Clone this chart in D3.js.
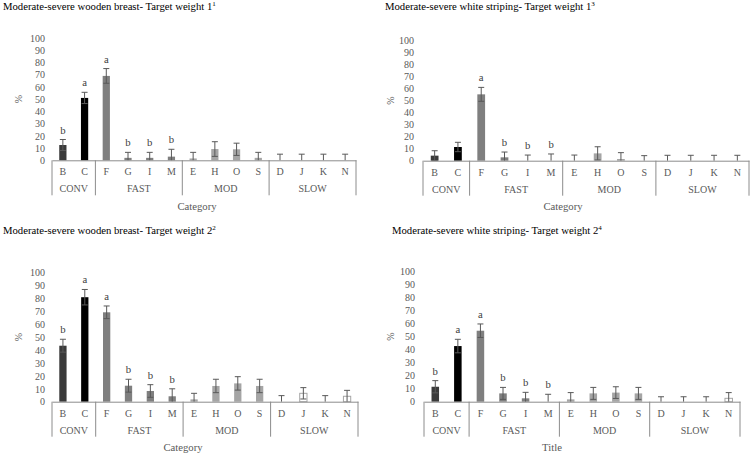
<!DOCTYPE html>
<html>
<head>
<meta charset="utf-8">
<script src="https://cdn.jsdelivr.net/npm/d3@7"></script>
<style>
  html, body { margin: 0; padding: 0; background: #fff; }
  svg { display: block; }
  text { font-family: "Liberation Serif", "Times New Roman", serif; }
</style>
</head>
<body>
<svg id="chart" width="750" height="454"></svg>
<script>
// ---------------- DATA ----------------
const categories = ["B", "C", "F", "G", "I", "M", "E", "H", "O", "S", "D", "J", "K", "N"];
const categoryGroups = ["CONV", "CONV", "FAST", "FAST", "FAST", "FAST", "MOD", "MOD", "MOD", "MOD", "SLOW", "SLOW", "SLOW", "SLOW"];
const groupNames = ["CONV", "FAST", "MOD", "SLOW"];
const yTicks = [0, 10, 20, 30, 40, 50, 60, 70, 80, 90, 100];

// Moderate-severe wooden breast - Target weight 1
const woodenTw1Values = [12.5, 51, 69, 2, 2, 3, 1.5, 9.2, 9, 2, 0, 0, 0, 0];
const woodenTw1Errors = [4.5, 4.6, 6, 4.5, 4.5, 6, 5, 6, 5, 4.5, 5, 5, 5, 5];
const woodenTw1Letters = ["b", "a", "a", "b", "b", "b", "", "", "", "", "", "", "", ""];

// Moderate-severe white striping - Target weight 1
const whiteTw1Values = [4.2, 11.4, 55.2, 2.8, 0, 0, 0, 6.1, 1.4, 0, 0, 0, 0, 0];
const whiteTw1Errors = [4.1, 3.9, 5.8, 4.4, 4.7, 5.6, 4.7, 5.5, 5.3, 4.2, 4.5, 4.5, 4.5, 4.5];
const whiteTw1Letters = ["", "", "a", "b", "b", "b", "", "", "", "", "", "", "", ""];

// Moderate-severe wooden breast - Target weight 2
const woodenTw2Values = [43.4, 81, 69.3, 12.4, 8.3, 4.2, 1.8, 12.2, 14.2, 12.2, 0, 6.5, 0, 4.2];
const woodenTw2Errors = [5, 6, 4.9, 5, 4.9, 5.8, 4.7, 5.2, 5.2, 5.2, 4.7, 4.4, 4.7, 4.6];
const woodenTw2Letters = ["b", "a", "a", "b", "b", "b", "", "", "", "", "", "", "", ""];

// Moderate-severe white striping - Target weight 2
const whiteTw2Values = [11.5, 42.8, 54.6, 6.4, 2.6, 0, 1.8, 6.4, 7, 6.4, 0, 0, 0, 2.6];
const whiteTw2Errors = [4.7, 5.2, 5.2, 4.6, 4.6, 5.7, 5.2, 4.6, 4.5, 4.6, 3.8, 3.8, 3.8, 4.4];
const whiteTw2Letters = ["b", "a", "a", "b", "b", "b", "", "", "", "", "", "", "", ""];

// ---------------- STYLE / LAYOUT ----------------
const groupFill = { CONV: null, FAST: "#7f7f7f", MOD: "#a5a5a5", SLOW: "#ffffff" };
const catFill = { B: "#3a3a3a", C: "#000000" };
const groupStroke = { SLOW: "#a6a6a6" };
const axisColor = "#8c8c8c";
const labelColor = "#595959";
const errColor = "#595959";

const panels = [
  { title: "Moderate-severe wooden breast- Target weight 1", sup: "1", values: woodenTw1Values, errors: woodenTw1Errors, letters: woodenTw1Letters,
    titleX: 3, titleY: 9.5, x0: 52, x1: 356, y0: 160.3, y100: 38, tickRight: 45, yLabelX: 18, axisTitle: "Category", axisTitleX: 197 },
  { title: "Moderate-severe white striping- Target weight 1", sup: "3", values: whiteTw1Values, errors: whiteTw1Errors, letters: whiteTw1Letters,
    titleX: 385, titleY: 10, x0: 423, x1: 749, y0: 160.7, y100: 40.5, tickRight: 414, yLabelX: 390, axisTitle: "Category", axisTitleX: 563 },
  { title: "Moderate-severe wooden breast- Target weight 2", sup: "2", values: woodenTw2Values, errors: woodenTw2Errors, letters: woodenTw2Letters,
    titleX: 3, titleY: 234, x0: 52, x1: 358, y0: 401.7, y100: 272.7, tickRight: 45, yLabelX: 18, axisTitle: "Category", axisTitleX: 183 },
  { title: "Moderate-severe white striping- Target weight 2", sup: "4", values: whiteTw2Values, errors: whiteTw2Errors, letters: whiteTw2Letters,
    titleX: 392, titleY: 233.5, x0: 424, x1: 740, y0: 401.7, y100: 271.7, tickRight: 415, yLabelX: 390, axisTitle: "Title", axisTitleX: 552 }
];

const svg = d3.select("#chart");

panels.forEach(p => {
  const g = svg.append("g");

  // Title
  const t = g.append("text")
    .attr("x", p.titleX).attr("y", p.titleY)
    .attr("font-size", "10.7px").attr("fill", "#000");
  t.append("tspan").text(p.title);
  t.append("tspan").attr("font-size", "7px").attr("dy", "-4").text(p.sup);

  const x = d3.scaleBand().domain(categories).range([p.x0, p.x1])
    .paddingInner(2 / 3).paddingOuter(1 / 3);
  const y = d3.scaleLinear().domain([0, 100]).range([p.y0, p.y100]);
  const step = x.step();
  const bw = x.bandwidth();

  // Y tick labels
  const yAxis = d3.axisLeft(y).tickValues(yTicks).tickSize(0).tickPadding(0);
  const ya = g.append("g").attr("transform", `translate(${p.tickRight},0)`).call(yAxis);
  ya.select(".domain").remove();
  ya.selectAll("text").attr("font-size", "10px").attr("fill", labelColor)
    .style("font-family", '"Liberation Serif", "Times New Roman", serif');

  // Y label
  g.append("text")
    .attr("transform", `translate(${p.yLabelX},${(p.y0 + p.y100) / 2}) rotate(-90)`)
    .attr("text-anchor", "middle").attr("dy", "0.35em")
    .attr("font-size", "10px").attr("fill", labelColor).text("%");

  const data = categories.map((c, i) => ({
    cat: c, group: categoryGroups[i], v: p.values[i], e: p.errors[i], letter: p.letters[i]
  }));

  // Bars
  g.selectAll("rect.bar").data(data.filter(d => d.v > 0)).join("rect")
    .attr("class", "bar")
    .attr("x", d => x(d.cat))
    .attr("width", bw)
    .attr("y", d => y(d.v))
    .attr("height", d => y(0) - y(d.v))
    .attr("fill", d => catFill[d.cat] || groupFill[d.group])
    .attr("stroke", d => groupStroke[d.group] || "none")
    .attr("stroke-width", 1);

  // Error bars
  const capW = 6;
  const eb = g.selectAll("g.err").data(data).join("g").attr("class", "err")
    .attr("stroke", errColor).attr("stroke-width", 1);
  eb.append("line")
    .attr("x1", d => x(d.cat) + bw / 2).attr("x2", d => x(d.cat) + bw / 2)
    .attr("y1", d => y(Math.max(0, d.v - d.e))).attr("y2", d => y(d.v + d.e));
  eb.append("line")
    .attr("x1", d => x(d.cat) + bw / 2 - capW / 2).attr("x2", d => x(d.cat) + bw / 2 + capW / 2)
    .attr("y1", d => y(d.v + d.e)).attr("y2", d => y(d.v + d.e));
  eb.filter(d => d.v - d.e > 0).append("line")
    .attr("x1", d => x(d.cat) + bw / 2 - capW / 2).attr("x2", d => x(d.cat) + bw / 2 + capW / 2)
    .attr("y1", d => y(d.v - d.e)).attr("y2", d => y(d.v - d.e));

  // Significance letters
  g.selectAll("text.sig").data(data.filter(d => d.letter)).join("text")
    .attr("class", "sig")
    .attr("x", d => x(d.cat) + bw / 2)
    .attr("y", d => y(d.v + d.e) - 6)
    .attr("text-anchor", "middle")
    .attr("font-size", "10.7px").attr("fill", "#404040")
    .text(d => d.letter);

  // X axis (baseline + category letters)
  const xAxis = d3.axisBottom(x).tickSize(0).tickSizeOuter(0).tickPadding(8);
  const xa = g.append("g").attr("transform", `translate(0,${p.y0})`).call(xAxis);
  xa.select(".domain").attr("stroke", axisColor);
  xa.selectAll("text").attr("font-size", "10px").attr("fill", labelColor)
    .style("font-family", '"Liberation Serif", "Times New Roman", serif');

  // Group separators and labels
  const bounds = [];
  groupNames.forEach(gn => {
    const members = categories.filter((c, i) => categoryGroups[i] === gn);
    const left = x(members[0]) + bw / 2 - step / 2;
    const right = x(members[members.length - 1]) + bw / 2 + step / 2;
    bounds.push(left, right);
    g.append("text")
      .attr("x", (left + right) / 2).attr("y", p.y0 + 32)
      .attr("text-anchor", "middle").attr("font-size", "10px").attr("fill", labelColor)
      .text(gn);
  });
  Array.from(new Set(bounds.map(b => Math.round(b * 10) / 10))).forEach(bx => {
    g.append("line")
      .attr("x1", bx).attr("x2", bx)
      .attr("y1", p.y0).attr("y2", p.y0 + 35)
      .attr("stroke", axisColor).attr("stroke-width", 1);
  });

  // Axis title
  g.append("text")
    .attr("x", p.axisTitleX).attr("y", p.y0 + 49.5)
    .attr("text-anchor", "middle").attr("font-size", "10.7px").attr("fill", labelColor)
    .text(p.axisTitle);
});
</script>
</body>
</html>
